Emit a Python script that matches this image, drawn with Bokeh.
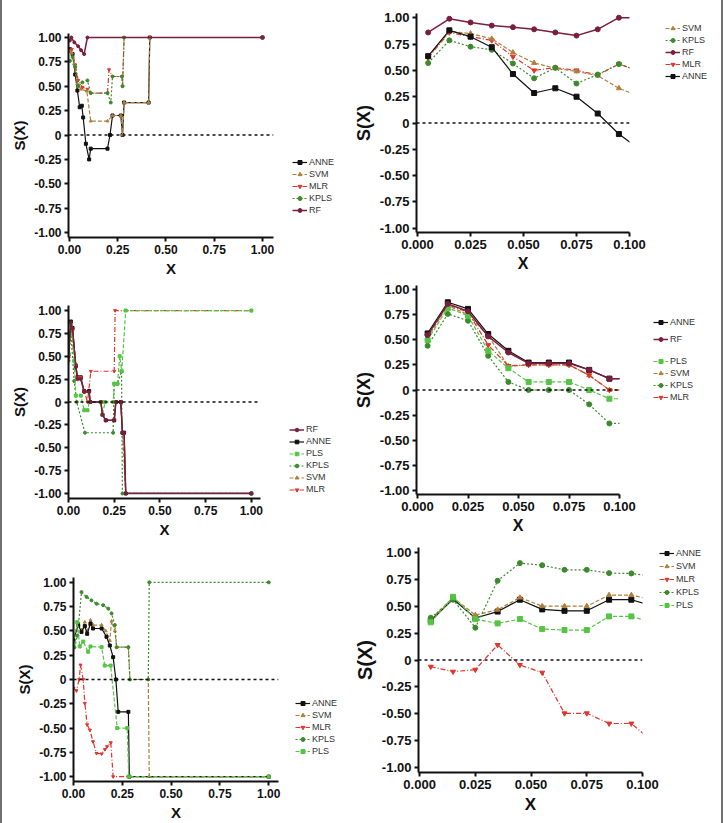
from bokeh.plotting import figure
from bokeh.layouts import column, row
from bokeh.models import Range1d, FixedTicker, Legend, LegendItem, Span, CustomJSTickFormatter, Div
from bokeh.embed import file_html
from bokeh.resources import INLINE

# ---------------- data ----------------
# top-left: full range
A_ANNE_x = [0.002, 0.016, 0.03, 0.041, 0.053, 0.064, 0.071, 0.085, 0.102, 0.11, 0.197, 0.21, 0.223, 0.266, 0.275, 0.283, 0.41, 0.416, 1.0]
A_ANNE_y = [0.88, 0.83, 0.62, 0.456, 0.285, 0.30, 0.18, -0.09, -0.25, -0.14, -0.14, 0.0, 0.2, 0.2, 0.0, 0.333, 0.333, 1.0, 1.0]
A_SVM_x = [0.002, 0.012, 0.024, 0.041, 0.059, 0.09, 0.11, 0.197, 0.223, 0.266, 0.275, 0.283, 0.41, 0.416, 1.0]
A_SVM_y = [0.86, 0.84, 0.73, 0.525, 0.47, 0.45, 0.143, 0.143, 0.2, 0.2, 0.0, 0.333, 0.333, 1.0, 1.0]
A_MLR_x = [0.002, 0.012, 0.03, 0.045, 0.067, 0.093, 0.11, 0.197, 0.205, 0.223, 0.272, 0.275, 0.283, 1.0]
A_MLR_y = [0.86, 0.88, 0.72, 0.56, 0.49, 0.47, 0.43, 0.43, 0.67, 0.60, 0.60, 0.50, 1.0, 1.0]
A_KPLS_x = [0.002, 0.016, 0.03, 0.045, 0.067, 0.093, 0.11, 0.197, 0.214, 0.223, 0.272, 0.275, 0.283, 1.0]
A_KPLS_y = [0.76, 0.80, 0.70, 0.50, 0.54, 0.56, 0.43, 0.43, 0.333, 0.60, 0.60, 0.50, 1.0, 1.0]
A_RF_x = [0.002, 0.01, 0.025, 0.045, 0.06, 0.076, 0.093, 1.0]
A_RF_y = [0.97, 1.0, 0.95, 0.91, 0.87, 0.83, 1.0, 1.0]

# top-right: 0 - 0.1
B_x = [0.005, 0.015, 0.025, 0.035, 0.045, 0.055, 0.065, 0.075, 0.085, 0.095, 0.105]
B_SVM = [0.63, 0.87, 0.85, 0.80, 0.67, 0.57, 0.52, 0.49, 0.45, 0.33, 0.25]
B_KPLS = [0.57, 0.785, 0.725, 0.695, 0.565, 0.425, 0.525, 0.375, 0.46, 0.56, 0.49]
B_RF = [0.86, 0.99, 0.955, 0.925, 0.91, 0.89, 0.86, 0.83, 0.89, 1.0, 1.0]
B_MLR = [0.62, 0.86, 0.82, 0.785, 0.63, 0.50, 0.525, 0.50, 0.455, 0.56, 0.49]
B_ANNE = [0.635, 0.88, 0.82, 0.72, 0.465, 0.285, 0.33, 0.25, 0.09, -0.105, -0.255]

# middle-left: full range
C_RF_x = [0.0, 0.013, 0.022, 0.04, 0.049, 0.067, 0.086, 0.113, 0.118, 0.177, 0.186, 0.204, 0.25, 0.259, 0.286, 0.295, 0.304, 0.313, 1.0]
C_RF_y = [0.49, 0.87, 0.80, 0.38, 0.25, 0.25, 0.11, 0.11, 0.0, 0.0, -0.14, -0.2, -0.2, 0.0, 0.0, -0.336, -0.336, -1.0, -1.0]
C_ANNE_x = [0.0, 0.013, 0.022, 0.04, 0.049, 0.067, 0.086, 0.113, 0.118, 0.177, 0.186, 0.204, 0.25, 0.259, 0.286, 0.295, 0.304, 0.313, 1.0]
C_ANNE_y = [0.52, 0.88, 0.81, 0.40, 0.27, 0.27, 0.12, 0.12, 0.0, 0.0, -0.14, -0.2, -0.2, 0.0, 0.0, -0.336, -0.336, -1.0, -1.0]
C_PLS_x = [0.0, 0.013, 0.031, 0.04, 0.067, 0.086, 0.104, 0.113, 0.177, 0.186, 0.2, 0.245, 0.25, 0.268, 0.28, 0.291, 0.313, 1.0]
C_PLS_y = [0.53, 0.84, 0.45, 0.07, 0.07, -0.09, -0.09, 0.0, 0.0, -0.14, 0.0, 0.0, 0.2, 0.2, 0.5, 0.336, 1.0, 1.0]
C_KPLS_x = [0.0, 0.013, 0.031, 0.045, 0.09, 0.244, 0.25, 0.268, 0.29, 0.295, 1.0]
C_KPLS_y = [0.45, 0.76, 0.23, 0.0, -0.336, -0.336, 0.2, 0.2, 0.336, -1.0, -1.0]
C_SVM_x = [0.0, 0.013, 0.022, 0.04, 0.049, 0.067, 0.086, 0.113, 0.118, 0.177, 0.186, 0.204, 0.25, 0.259, 0.286, 0.295, 0.313, 1.0]
C_SVM_y = [0.50, 0.86, 0.79, 0.39, 0.26, 0.26, 0.11, 0.11, 0.0, 0.0, -0.14, -0.2, -0.2, 0.0, 0.0, -0.336, -1.0, -1.0]
C_MLR_x = [0.0, 0.013, 0.022, 0.04, 0.049, 0.067, 0.086, 0.104, 0.122, 0.25, 0.255, 1.0]
C_MLR_y = [0.50, 0.86, 0.78, 0.40, 0.27, 0.27, 0.12, 0.0, 0.336, 0.336, 1.0, 1.0]

# middle-right: 0 - 0.1
D_x = [0.005, 0.015, 0.025, 0.035, 0.045, 0.055, 0.065, 0.075, 0.085, 0.095, 0.105]
D_ANNE = [0.563, 0.873, 0.807, 0.557, 0.39, 0.273, 0.273, 0.273, 0.20, 0.113, 0.113]
D_RF = [0.547, 0.857, 0.783, 0.533, 0.373, 0.265, 0.265, 0.265, 0.20, 0.113, 0.113]
D_PLS = [0.497, 0.817, 0.74, 0.39, 0.217, 0.08, 0.08, 0.08, 0.0, -0.087, -0.087]
D_SVM = [0.52, 0.84, 0.75, 0.54, 0.235, 0.25, 0.25, 0.25, 0.147, 0.0, 0.0]
D_KPLS = [0.44, 0.757, 0.69, 0.34, 0.08, 0.0, 0.0, 0.0, -0.143, -0.333, -0.333]
D_MLR = [0.54, 0.85, 0.773, 0.447, 0.24, 0.25, 0.25, 0.25, 0.147, 0.0, 0.0]

# bottom-left: full range
E_ANNE_x = [0.0, 0.024, 0.041, 0.058, 0.07, 0.087, 0.10, 0.144, 0.169, 0.186, 0.203, 0.217, 0.229, 0.281, 0.286, 1.0]
E_ANNE_y = [0.405, 0.56, 0.49, 0.55, 0.47, 0.576, 0.525, 0.525, 0.44, 0.35, 0.23, 0.0, -0.333, -0.333, -1.0, -1.0]
E_SVM_x = [0.0, 0.024, 0.041, 0.058, 0.07, 0.087, 0.10, 0.144, 0.165, 0.186, 0.195, 0.212, 0.221, 0.281, 0.289, 0.383, 0.388, 1.0]
E_SVM_y = [0.42, 0.59, 0.51, 0.59, 0.50, 0.61, 0.56, 0.56, 0.50, 0.40, 0.60, 0.50, 0.333, 0.333, 0.0, 0.0, -1.0, -1.0]
E_MLR_x = [0.0, 0.015, 0.029, 0.036, 0.05, 0.058, 0.07, 0.084, 0.10, 0.118, 0.144, 0.161, 0.172, 0.191, 0.203, 0.281, 1.0]
E_MLR_y = [-0.09, -0.115, 0.0, 0.15, 0.0, -0.245, -0.465, -0.52, -0.64, -0.76, -0.765, -0.72, -0.69, -0.65, -1.0, -1.0, -1.0]
E_KPLS_x = [0.005, 0.02, 0.041, 0.067, 0.092, 0.118, 0.152, 0.178, 0.195, 0.212, 0.221, 0.281, 0.289, 0.383, 0.388, 1.0]
E_KPLS_y = [0.33, 0.45, 0.90, 0.85, 0.815, 0.78, 0.765, 0.73, 0.68, 0.56, 0.333, 0.333, 0.0, 0.0, 1.0, 1.0]
E_PLS_x = [0.0, 0.019, 0.032, 0.05, 0.075, 0.087, 0.144, 0.16, 0.19, 0.224, 0.275, 0.283, 1.0]
E_PLS_y = [0.36, 0.59, 0.34, 0.39, 0.285, 0.34, 0.333, 0.143, 0.143, -0.5, -0.5, -1.0, -1.0]

# bottom-right: 0 - 0.1
F_x = [0.005, 0.015, 0.025, 0.035, 0.045, 0.055, 0.065, 0.075, 0.085, 0.095, 0.105]
F_ANNE = [0.365, 0.566, 0.39, 0.45, 0.56, 0.47, 0.457, 0.457, 0.56, 0.56, 0.50]
F_SVM = [0.38, 0.58, 0.417, 0.467, 0.58, 0.50, 0.50, 0.50, 0.603, 0.603, 0.557]
F_MLR = [-0.062, -0.108, -0.09, 0.14, -0.046, -0.117, -0.495, -0.495, -0.59, -0.59, -0.765]
F_KPLS = [0.393, 0.56, 0.30, 0.736, 0.90, 0.88, 0.838, 0.838, 0.807, 0.804, 0.776]
F_PLS = [0.35, 0.587, 0.38, 0.34, 0.38, 0.287, 0.278, 0.278, 0.405, 0.405, 0.343]

Y_TICKS = [-1.0, -0.75, -0.5, -0.25, 0.0, 0.25, 0.5, 0.75, 1.0]
X_TICKS_FULL = [0.0, 0.25, 0.5, 0.75, 1.0]
X_TICKS_ZOOM = [0.0, 0.025, 0.05, 0.075, 0.1]

# ---------------- styles ----------------
STYLE = {
    "ANNE": dict(color="#111111", dash="solid", marker="square", lw=1.2),
    "SVM": dict(color="#b07f3e", dash="4 2", marker="triangle", lw=1.2),
    "MLR": dict(color="#e0352c", dash="5 2 1 2", marker="inverted_triangle", lw=1.2),
    "KPLS": dict(color="#3b8a2c", dash="2 2", marker="circle", lw=1.2),
    "RF": dict(color="#7b1e3e", dash="solid", marker="circle", lw=1.5),
    "PLS": dict(color="#55c443", dash="4 2", marker="square", lw=1.2),
}
FONT = "Liberation Sans"


def make_panel(w, h, bl, br, bt, bb, xr, yr, xticks, xdec, tick_px, ylab_px, xlab_px):
    p = figure(width=w, height=h, min_border_left=bl, min_border_right=br,
               min_border_top=bt, min_border_bottom=bb,
               x_range=Range1d(*xr), y_range=Range1d(*yr),
               x_axis_label="X", y_axis_label="S(X)",
               output_backend="svg", toolbar_location=None)
    p.grid.visible = False
    p.outline_line_color = None
    p.background_fill_color = "white"
    p.border_fill_color = "white"
    for ax in (p.xaxis[0], p.yaxis[0]):
        ax.axis_line_width = 2
        ax.axis_line_color = "#111111"
        ax.major_tick_line_width = 2
        ax.major_tick_line_color = "#111111"
        ax.major_tick_out = 4
        ax.major_tick_in = 0
        ax.minor_tick_line_color = None
        ax.major_label_text_font = FONT
        ax.major_label_text_font_style = "bold"
        ax.major_label_text_font_size = f"{tick_px}px"
        ax.major_label_text_color = "#111111"
        ax.major_label_standoff = 3
        ax.axis_label_text_font = FONT
        ax.axis_label_text_font_style = "bold"
        ax.axis_label_text_color = "#111111"
        ax.axis_label_standoff = 3
    p.yaxis[0].axis_label_text_font_size = f"{ylab_px}px"
    p.xaxis[0].axis_label_text_font_size = f"{xlab_px}px"
    p.yaxis[0].ticker = FixedTicker(ticks=Y_TICKS)
    p.xaxis[0].ticker = FixedTicker(ticks=xticks)
    p.yaxis[0].formatter = CustomJSTickFormatter(code="return Math.abs(tick) < 1e-9 ? '0' : tick.toFixed(2);")
    p.xaxis[0].formatter = CustomJSTickFormatter(code=f"return tick.toFixed({xdec});")
    p.add_layout(Span(location=0, dimension="width", line_color="#111111",
                      line_width=1.5, line_dash="3 3"))
    return p


def add_series(p, name, xs, ys, msize):
    s = STYLE[name]
    ln = p.line(xs, ys, line_color=s["color"], line_width=s["lw"], line_dash=s["dash"])
    sc = p.scatter(xs, ys, marker=s["marker"], size=msize,
                   fill_color=s["color"], line_color=s["color"])
    return [ln, sc]


def key_panel(w, h, series, groups, msize):
    """A bare figure holding only the series key(s) beside a chart.

    The same series are drawn here with the same styles, but the view range
    lies away from the data, so only the key entries are visible."""
    k = figure(width=w, height=h, min_border=0, min_border_left=0, min_border_right=0,
               min_border_top=0, min_border_bottom=0,
               x_range=Range1d(10, 11), y_range=Range1d(10, 11),
               x_axis_location=None, y_axis_location=None,
               output_backend="svg", toolbar_location=None)
    k.grid.visible = False
    k.outline_line_color = None
    k.border_fill_color = "white"
    rends = {n: add_series(k, n, xs, ys, msize) for n, (xs, ys) in series.items()}
    for names, loc, row_h, spacing in groups:
        items = [LegendItem(label=n, renderers=rends[n]) for n in names]
        k.add_layout(Legend(items=items, location=loc, orientation="vertical",
                            glyph_width=15, glyph_height=row_h, label_height=row_h,
                            label_standoff=2, spacing=spacing, padding=0, margin=0,
                            border_line_color=None, background_fill_alpha=0,
                            label_text_font=FONT, label_text_font_size="9px",
                            label_text_color="#333333"), "center")
    return k


# ---------------- top row ----------------
s1 = {"ANNE": (A_ANNE_x, A_ANNE_y), "MLR": (A_MLR_x, A_MLR_y), "SVM": (A_SVM_x, A_SVM_y),
      "KPLS": (A_KPLS_x, A_KPLS_y), "RF": (A_RF_x, A_RF_y)}
p1 = make_panel(276, 280, 66, 5, 33, 43, (-0.005, 1.057), (-1.051, 1.041),
                X_TICKS_FULL, 2, 12, 15, 15)
for n, (xs, ys) in s1.items():
    add_series(p1, n, xs, ys, 3)
k1 = key_panel(72, 280, s1, [(["ANNE", "SVM", "MLR", "KPLS", "RF"], (14, 65), 10, 2)], 3)

s2 = {"MLR": (B_x, B_MLR), "SVM": (B_x, B_SVM), "KPLS": (B_x, B_KPLS),
      "ANNE": (B_x, B_ANNE), "RF": (B_x, B_RF)}
p2 = make_panel(299, 280, 60, 20, 13, 48, (-0.0005, 0.1), (-1.04, 1.04),
                X_TICKS_ZOOM, 3, 13, 18, 16)
for n, (xs, ys) in s2.items():
    add_series(p2, n, xs, ys, 5)
k2 = key_panel(72, 280, s2, [(["SVM", "KPLS", "RF", "MLR", "ANNE"], (16, 199), 10, 2)], 4)

# ---------------- middle row ----------------
s3 = {"SVM": (C_SVM_x, C_SVM_y), "ANNE": (C_ANNE_x, C_ANNE_y), "MLR": (C_MLR_x, C_MLR_y),
      "KPLS": (C_KPLS_x, C_KPLS_y), "PLS": (C_PLS_x, C_PLS_y), "RF": (C_RF_x, C_RF_y)}
p3 = make_panel(263, 260, 66, 5, 25, 42, (0.0, 1.05), (-1.055, 1.055),
                X_TICKS_FULL, 2, 12, 15, 15)
for n, (xs, ys) in s3.items():
    add_series(p3, n, xs, ys, 3)
k3 = key_panel(85, 260, s3, [(["RF", "ANNE", "PLS", "KPLS", "SVM", "MLR"], (24, 46), 9, 2)], 3)

s4 = {"SVM": (D_x, D_SVM), "MLR": (D_x, D_MLR), "KPLS": (D_x, D_KPLS), "PLS": (D_x, D_PLS),
      "ANNE": (D_x, D_ANNE), "RF": (D_x, D_RF)}
p4 = make_panel(289, 260, 59, 20, 5, 46, (-0.0005, 0.1), (-1.04, 1.04),
                X_TICKS_ZOOM, 3, 13, 18, 16)
for n, (xs, ys) in s4.items():
    add_series(p4, n, xs, ys, 5)
k4 = key_panel(82, 260, s4, [(["ANNE", "RF"], (14, 196), 10, 7),
                             (["PLS", "SVM", "KPLS", "MLR"], (14, 138), 10, 2)], 4)

# ---------------- bottom row ----------------
s5 = {"SVM": (E_SVM_x, E_SVM_y), "MLR": (E_MLR_x, E_MLR_y), "ANNE": (E_ANNE_x, E_ANNE_y),
      "KPLS": (E_KPLS_x, E_KPLS_y), "PLS": (E_PLS_x, E_PLS_y)}
p5 = make_panel(281, 283, 71, 5, 37, 41, (0.0, 1.05), (-1.05, 1.05),
                X_TICKS_FULL, 2, 12, 15, 15)
for n, (xs, ys) in s5.items():
    add_series(p5, n, xs, ys, 3)
k5 = key_panel(67, 283, s5, [(["ANNE", "SVM", "MLR", "KPLS", "PLS"], (12, 67), 10, 2)], 3)

s6 = {"ANNE": (F_x, F_ANNE), "SVM": (F_x, F_SVM), "MLR": (F_x, F_MLR),
      "KPLS": (F_x, F_KPLS), "PLS": (F_x, F_PLS)}
p6 = make_panel(309, 283, 67, 17, 7, 51, (-0.0005, 0.1), (-1.045, 1.045),
                X_TICKS_ZOOM, 3, 13, 20, 17)
for n, (xs, ys) in s6.items():
    add_series(p6, n, xs, ys, 5)
k6 = key_panel(62, 283, s6, [(["ANNE", "SVM", "MLR", "KPLS", "PLS"], (0, 213), 10, 3)], 4)


def strip(*figs):
    # every figure sits in its own column so siblings keep independent borders
    return row(*[column(f) for f in figs], spacing=0)


def edge():
    # thin grey frame line at the page side
    return Div(width=2, height=823, margin=0,
               text='<div style="width:2px;height:823px;background:#707070"></div>')


grid = column(strip(p1, k1, p2, k2), strip(p3, k3, p4, k4), strip(p5, k5, p6, k6), spacing=0)
layout = row(edge(), grid, edge(), spacing=0)

open("out.html", "w").write(file_html(layout, INLINE))
